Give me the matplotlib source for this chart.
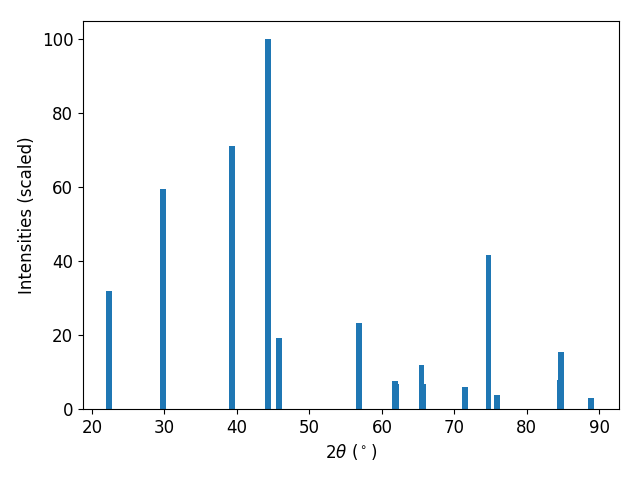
import matplotlib
matplotlib.use("Agg")
import matplotlib.pyplot as plt

two_theta = [22.38, 29.75, 39.28, 44.25, 45.77, 56.82, 61.83, 61.98,
             65.48, 65.68, 71.46, 74.70, 75.88, 84.57, 84.73, 88.86]
intensity = [32.0, 59.6, 71.3, 100.0, 19.2, 23.3, 7.6, 6.8,
             11.9, 6.8, 6.0, 41.7, 3.8, 7.9, 15.4, 3.0]

plt.rcParams['font.size'] = 12
fig, ax = plt.subplots(figsize=(6.4, 4.8), dpi=100)
ax.bar(two_theta, intensity, width=0.8, color='#1f77b4')
ax.set_xlim(18.76, 92.72)
ax.set_xlabel(r"$2\theta$ ($^\circ$)")
ax.set_ylabel("Intensities (scaled)")
fig.subplots_adjust(left=0.1297, right=0.9672, top=0.95625, bottom=0.1479)
fig.savefig("out.png", dpi=100)
